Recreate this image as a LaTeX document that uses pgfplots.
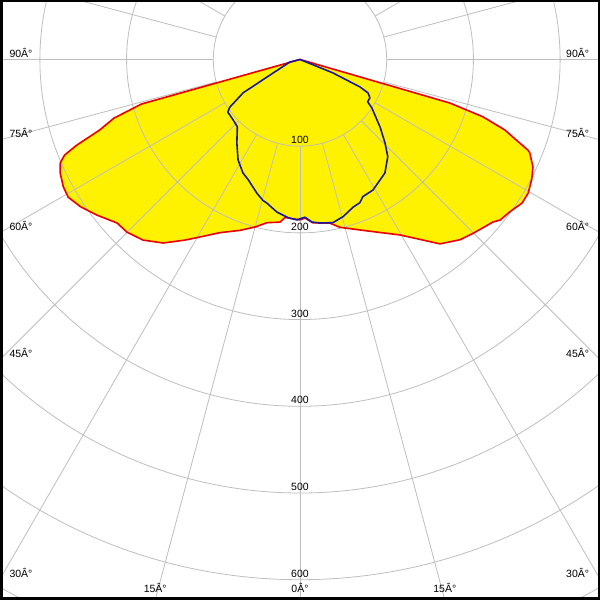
\documentclass[border=0pt]{standalone}
\usepackage{fontspec}
\setmainfont{Liberation Sans}
\usepackage{pgfplots}
\usepackage{pgfplotstable}
\pgfplotsset{compat=1.18}
\definecolor{gridgray}{RGB}{190,190,190}
\definecolor{curveblue}{RGB}{25,25,160}
\definecolor{curvered}{RGB}{235,0,0}

% C0-C180 plane (signed gamma, intensity)
\pgfplotstableread{
g r
-90 0
-74.3 190
-72.5 225
-70.6 245
-69 276
-67.9 293
-66.7 301
-64.7 306
-61.7 310
-59.3 311
-56.2 305
-52.5 295
-48.2 283
-45.1 282
-41 276
-36.7 264
-32.5 247
-29.4 235
-24.8 220
-19.4 209
-15 200
-11.4 192
-7 189
-5.4 183
-2.5 184
0 185
1.8 183
4.5 189
10.4 192
13.4 199
17.4 205
22.2 214
29.7 233
37.2 267
41.6 278
44.9 283
49.9 291
51.3 296
54 299
57.1 305
59.6 305
62.6 301
65.2 296
67.9 286
68.3 283
70 261
71 250
72.6 221
73.8 180
90 0
}\redtab

% C90-C270 plane
\pgfplotstableread{
g r
-90 0
-76 12
-62 43
-59.6 76
-55.8 98
-53.9 103
-47.9 104
-43 106
-37 121
-31.7 136
-26.7 146.5
-23.3 151
-17.9 162
-14.8 168
-13 170
-8.6 178
-4.3 183
-1.1 185
1.8 182
4.2 188
7 190
11.4 192
14.2 189
15.3 188
19.8 181
22.7 179
24.6 174
29.2 172.5
36.8 163.5
42.1 151
45.5 137.5
49.8 121
56 100
58 92
61.2 92
63.8 87.5
65.4 76
67.8 41
90 0
}\bluetab

\begin{document}
\begin{tikzpicture}
\begin{axis}[name=ax, at={(0,0)}, anchor=south west,
  width=600pt, height=600pt, scale only axis,
  xmin=-346, xmax=346, ymin=-623.4, ymax=68.6,
  hide axis, clip=true]
\addplot[draw=none, fill=yellow, data cs=polar] table[x expr=\thisrow{g}-90, y=r] {\redtab};
\pgfplotsinvokeforeach{1,...,7}{\draw[gridgray, line width=0.8pt] (axis cs:0,0) circle[radius=#1*86.705pt];}
\pgfplotsinvokeforeach{0,15,...,345}{\draw[gridgray, line width=0.8pt] (axis cs:{100*cos(#1)},{100*sin(#1)}) -- (axis cs:{900*cos(#1)},{900*sin(#1)});}
\addplot[curvered, line width=1.6pt, line join=round, data cs=polar] table[x expr=\thisrow{g}-90, y=r] {\redtab};
\addplot[curveblue, line width=1.6pt, line join=round, data cs=polar] table[x expr=\thisrow{g}-90, y=r] {\bluetab};
\end{axis}
\begin{scope}[every node/.style={inner sep=0pt, font=\fontsize{10.5}{12}\selectfont}]
% radius labels
\node[anchor=base] at ([shift={(300pt,-143.6pt)}]ax.north west) {100};
\node[anchor=base] at ([shift={(300pt,-230.3pt)}]ax.north west) {200};
\node[anchor=base] at ([shift={(300pt,-317.1pt)}]ax.north west) {300};
\node[anchor=base] at ([shift={(300pt,-403.8pt)}]ax.north west) {400};
\node[anchor=base] at ([shift={(300pt,-490.5pt)}]ax.north west) {500};
\node[anchor=base] at ([shift={(300pt,-577.2pt)}]ax.north west) {600};
% left angle labels
\node[anchor=base west] at ([shift={(9.3pt,-57.5pt)}]ax.north west) {90Â°};
\node[anchor=base west] at ([shift={(9.3pt,-137.9pt)}]ax.north west) {75Â°};
\node[anchor=base west] at ([shift={(9.3pt,-230.7pt)}]ax.north west) {60Â°};
\node[anchor=base west] at ([shift={(9.3pt,-357.5pt)}]ax.north west) {45Â°};
\node[anchor=base west] at ([shift={(9.3pt,-577.1pt)}]ax.north west) {30Â°};
% right angle labels
\node[anchor=base east] at ([shift={(589.3pt,-57.5pt)}]ax.north west) {90Â°};
\node[anchor=base east] at ([shift={(589.3pt,-137.9pt)}]ax.north west) {75Â°};
\node[anchor=base east] at ([shift={(589.3pt,-230.7pt)}]ax.north west) {60Â°};
\node[anchor=base east] at ([shift={(589.3pt,-357.5pt)}]ax.north west) {45Â°};
\node[anchor=base east] at ([shift={(589.3pt,-577.1pt)}]ax.north west) {30Â°};
% bottom labels
\node[anchor=base] at ([shift={(155.2pt,-592.7pt)}]ax.north west) {15Â°};
\node[anchor=base] at ([shift={(300pt,-592.7pt)}]ax.north west) {0Â°};
\node[anchor=base] at ([shift={(444.8pt,-592.7pt)}]ax.north west) {15Â°};
\end{scope}
\draw[line width=5pt] (ax.south west) rectangle (ax.north east);
\pgfresetboundingbox
\useasboundingbox (ax.south west) rectangle (ax.north east);
\end{tikzpicture}
\end{document}
